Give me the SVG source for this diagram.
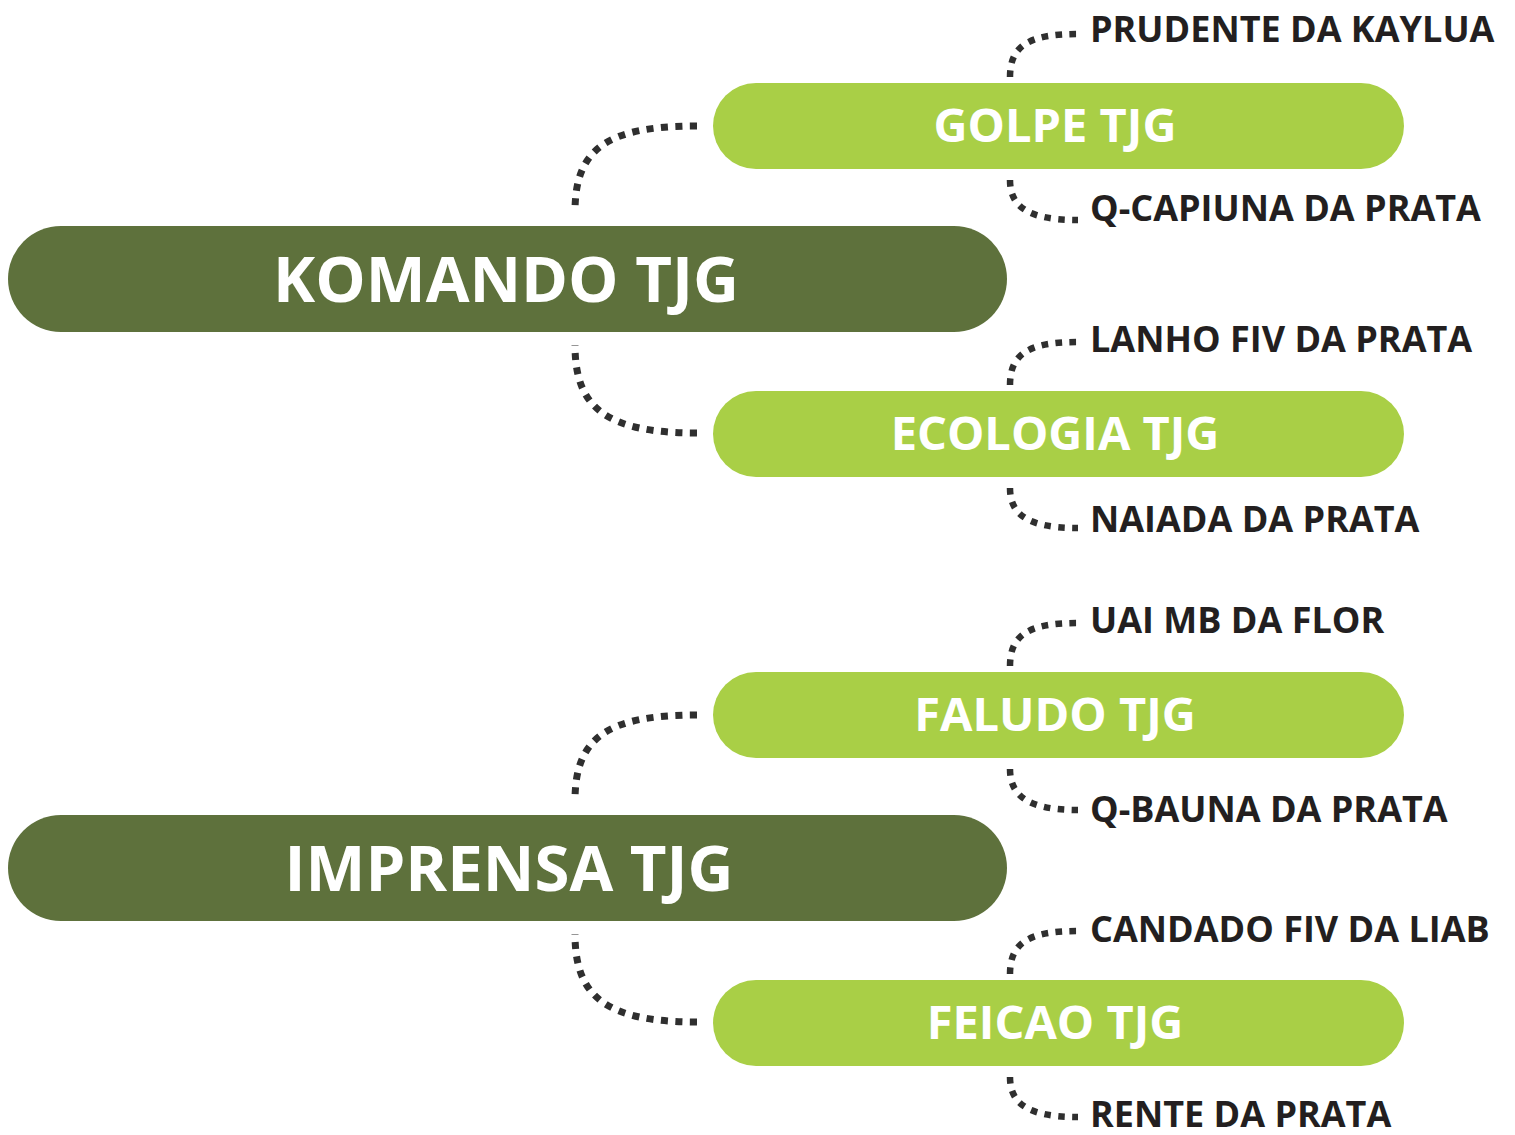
<svg xmlns="http://www.w3.org/2000/svg" width="1515" height="1135" viewBox="0 0 1515 1135">
<style>
.bg{fill:#ffffff}
.main{fill:#5e713c}
.sub{fill:#a9cf46}
.mt{font-family:"Open Sans","Liberation Sans",sans-serif;font-weight:700;font-size:63.5px;fill:#ffffff;text-anchor:middle}
.st{font-family:"Open Sans","Liberation Sans",sans-serif;font-weight:700;font-size:47px;fill:#ffffff;text-anchor:middle}
.lt{font-family:"Open Sans","Liberation Sans",sans-serif;font-weight:700;font-size:36px;fill:#231f20}
.c1{fill:none;stroke:#2f2f2f;stroke-width:7;stroke-dasharray:7 7.5}
.c2{fill:none;stroke:#2f2f2f;stroke-width:6.5;stroke-dasharray:6.5 7.5}
</style>
<rect class="bg" x="0" y="0" width="1515" height="1135"/>
<g id="connectors">
<path class="c1" d="M697,126 C605,126 575,150 575,212"/>
<path class="c1" d="M697,433 C605,433 575,407 575,345"/>
<path class="c1" d="M697,715 C605,715 575,739 575,801"/>
<path class="c1" d="M697,1022 C605,1022 575,996 575,934"/>
<path class="c2" d="M1010,77 C1010,45 1030,34 1078,34"/>
<path class="c2" d="M1010,180 C1010,208 1030,220 1078,220"/>
<path class="c2" d="M1010,385 C1010,353 1030,342 1078,342"/>
<path class="c2" d="M1010,488 C1010,516 1030,528 1078,528"/>
<path class="c2" d="M1010,666 C1010,634 1030,623 1078,623"/>
<path class="c2" d="M1010,769 C1010,797 1030,810 1078,810"/>
<path class="c2" d="M1010,974 C1010,942 1030,931 1078,931"/>
<path class="c2" d="M1010,1077 C1010,1105 1030,1117 1078,1117"/>
</g>
<g id="komando">
<rect class="main" x="8" y="226" width="999" height="106" rx="53"/>
<text class="mt" x="506" y="302">KOMANDO TJG</text>
</g>
<g id="imprensa">
<rect class="main" x="8" y="815" width="999" height="106" rx="53"/>
<text class="mt" x="509" y="891">IMPRENSA TJG</text>
</g>
<g id="golpe">
<rect class="sub" x="713" y="83" width="691" height="86" rx="43"/>
<text class="st" x="1055" y="142">GOLPE TJG</text>
</g>
<g id="ecologia">
<rect class="sub" x="713" y="391" width="691" height="86" rx="43"/>
<text class="st" x="1055" y="450">ECOLOGIA TJG</text>
</g>
<g id="faludo">
<rect class="sub" x="713" y="672" width="691" height="86" rx="43"/>
<text class="st" x="1055" y="731">FALUDO TJG</text>
</g>
<g id="feicao">
<rect class="sub" x="713" y="980" width="691" height="86" rx="43"/>
<text class="st" x="1055" y="1039">FEICAO TJG</text>
</g>
<g id="leaves">
<text id="prudente" class="lt" x="1090" y="42">PRUDENTE DA KAYLUA</text>
<text id="qcapiuna" class="lt" x="1090" y="221">Q-CAPIUNA DA PRATA</text>
<text id="lanho" class="lt" x="1090" y="352">LANHO FIV DA PRATA</text>
<text id="naiada" class="lt" x="1090" y="532">NAIADA DA PRATA</text>
<text id="uai" class="lt" x="1090" y="633">UAI MB DA FLOR</text>
<text id="qbauna" class="lt" x="1090" y="822">Q-BAUNA DA PRATA</text>
<text id="candado" class="lt" x="1090" y="942">CANDADO FIV DA LIAB</text>
<text id="rente" class="lt" x="1090" y="1127">RENTE DA PRATA</text>
</g>
</svg>
